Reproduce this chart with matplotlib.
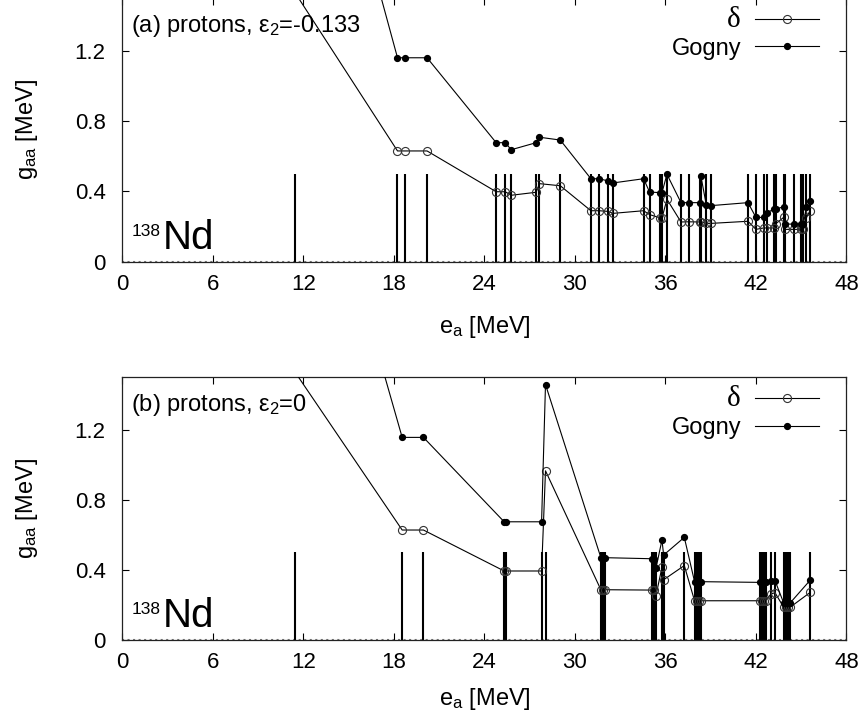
import matplotlib
matplotlib.use('Agg')
import matplotlib.pyplot as plt

plt.rcParams['font.family'] = ['Liberation Sans', 'DejaVu Sans']
plt.rcParams['mathtext.fontset'] = 'custom'
plt.rcParams['mathtext.rm'] = 'Liberation Sans'
plt.rcParams['mathtext.it'] = 'Liberation Sans:italic'

# (a) protons, eps2 = -0.133
levels_a = [11.45, 18.24, 18.73, 20.20, 24.78, 25.38, 25.78, 27.43, 27.65, 29.03,
            31.06, 31.61, 32.21, 32.52, 34.55, 34.95, 35.66, 35.77, 36.10, 37.03,
            37.54, 38.26, 38.35, 38.71, 39.02, 41.47, 42.00, 42.51, 42.73, 43.17,
            43.30, 43.83, 43.92, 44.50, 44.96, 45.15, 45.34, 45.56]
delta_a = [1.53, 0.63, 0.63, 0.63, 0.398, 0.398, 0.378, 0.395, 0.444, 0.432,
           0.290, 0.290, 0.286, 0.275, 0.290, 0.268, 0.249, 0.249, 0.355, 0.226,
           0.227, 0.226, 0.226, 0.218, 0.218, 0.230, 0.184, 0.192, 0.192, 0.192,
           0.215, 0.252, 0.184, 0.184, 0.184, 0.184, 0.249, 0.287]
gogny_a = [3.3, 1.16, 1.16, 1.16, 0.677, 0.677, 0.637, 0.677, 0.708, 0.692,
           0.472, 0.472, 0.459, 0.448, 0.472, 0.396, 0.393, 0.393, 0.497, 0.336,
           0.336, 0.336, 0.487, 0.322, 0.319, 0.336, 0.252, 0.252, 0.279, 0.298,
           0.298, 0.313, 0.214, 0.214, 0.214, 0.214, 0.313, 0.343]

# (b) protons, eps2 = 0
levels_b = [11.45, 18.55, 19.96, 25.31, 25.40, 27.79, 28.05, 31.72, 31.86, 32.01,
            35.10, 35.26, 35.37, 35.77, 35.88, 37.25, 37.93, 38.09, 38.24, 38.35,
            42.24, 42.37, 42.51, 42.64, 43.00, 43.26, 43.83, 43.97, 44.10, 44.28, 45.60]
delta_b = [1.53, 0.628, 0.628, 0.394, 0.394, 0.394, 0.966, 0.287, 0.287, 0.287,
           0.285, 0.285, 0.253, 0.415, 0.344, 0.425, 0.224, 0.224, 0.224, 0.224,
           0.224, 0.224, 0.224, 0.224, 0.263, 0.270, 0.188, 0.188, 0.188, 0.188, 0.272]
gogny_b = [3.3, 1.157, 1.157, 0.675, 0.675, 0.675, 1.459, 0.470, 0.470, 0.470,
           0.464, 0.464, 0.409, 0.571, 0.485, 0.586, 0.333, 0.333, 0.333, 0.333,
           0.329, 0.329, 0.329, 0.329, 0.339, 0.339, 0.213, 0.213, 0.213, 0.213, 0.342]

xticks = [0, 6, 12, 18, 24, 30, 36, 42, 48]
yticks = [0, 0.4, 0.8, 1.2]
ytick_labels = ['0', '0.4', '0.8', '1.2']
stick_top = 0.5


def draw_panel(ax, levels, delta, gogny, title, xlabel_y):
    ax.vlines(levels, 0, stick_top, color='k', lw=1.5, zorder=2)
    ax.plot(levels, delta, color='k', lw=0.8, marker='o', ms=5.8,
            mfc='none', mec='#333333', mew=0.8, label='δ', zorder=3)
    ax.plot(levels, gogny, color='k', lw=0.8, marker='o', ms=4.2,
            mfc='k', mec='k', label='Gogny', zorder=3)
    ax.axhline(0, color='#777777', lw=1.5, ls=':', zorder=1)
    ax.set_xlim(0, 48)
    ax.set_ylim(0, 1.5)
    ax.set_xticks(xticks)
    ax.set_yticks(yticks)
    ax.set_yticklabels(ytick_labels)
    ax.tick_params(direction='in', length=5, width=0.8, top=True, right=True,
                   labelsize=16)
    ax.tick_params(axis='y', pad=12)
    ax.tick_params(axis='x', pad=9)
    for sp in ax.spines.values():
        sp.set_linewidth(0.9)
        sp.set_color('#222222')
    ax.set_xlabel(r'e$_{\rm a}$ [MeV]', fontsize=17)
    ax.set_ylabel(r'g$_{\rm aa}$ [MeV]', fontsize=17)
    ax.yaxis.set_label_coords(-0.114, 0.5)
    ax.xaxis.set_label_coords(0.5, xlabel_y)
    ax.text(0.012, 0.872, title, transform=ax.transAxes, fontsize=17,
            va='baseline', ha='left')
    ax.text(0.013, 0.098, '138', transform=ax.transAxes, fontsize=12.5,
            va='baseline', ha='left')
    ax.text(0.056, 0.05, 'Nd', transform=ax.transAxes, fontsize=29,
            va='baseline', ha='left')
    leg = ax.legend(loc='upper right', bbox_to_anchor=(0.962, 0.966),
                    frameon=False, markerfirst=False, fontsize=17,
                    handlelength=2.7, handletextpad=0.6, labelspacing=0.2,
                    borderpad=0, borderaxespad=0, numpoints=1)
    leg.get_texts()[0].set_fontfamily('Liberation Serif')
    leg.get_texts()[0].set_fontsize(21)
    return leg


fig = plt.figure(figsize=(8.65, 7.19), dpi=100)
ax1 = fig.add_axes([0.1414, 0.636, 0.8372, 0.3668])
ax2 = fig.add_axes([0.1414, 0.1099, 0.8372, 0.3653])

draw_panel(ax1, levels_a, delta_a, gogny_a, r'(a) protons, ε$_{\rm 2}$=-0.133', -0.2)
draw_panel(ax2, levels_b, delta_b, gogny_b, r'(b) protons, ε$_{\rm 2}$=0', -0.175)

fig.savefig('out.png', dpi=100)
